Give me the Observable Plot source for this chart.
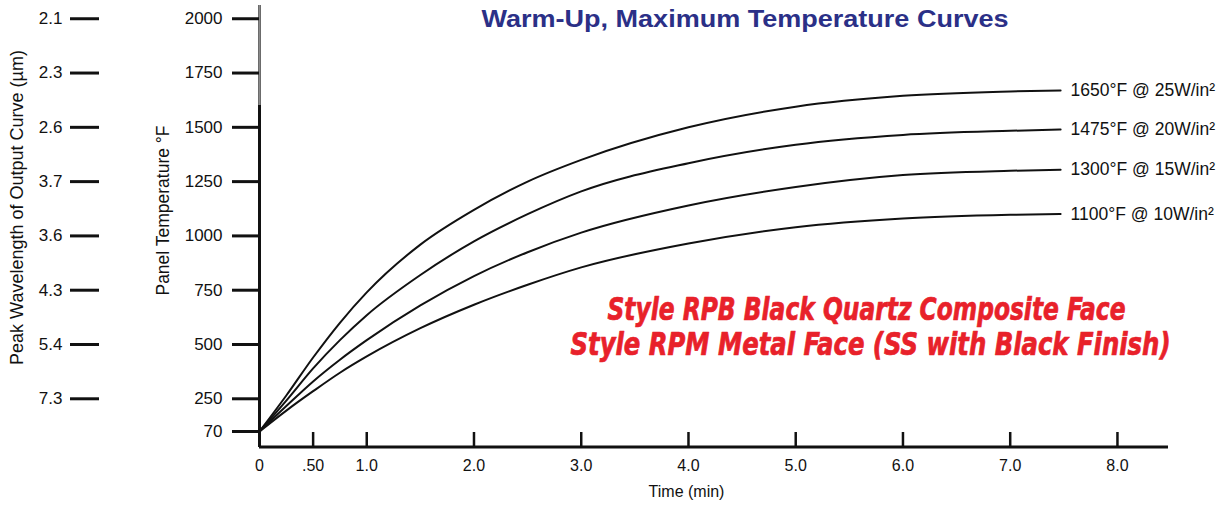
<!DOCTYPE html>
<html><head><meta charset="utf-8">
<script src="https://cdn.jsdelivr.net/npm/d3@7"></script>
<script src="https://cdn.jsdelivr.net/npm/@observablehq/plot@0.6"></script>
<style>body{margin:0;background:#fff} svg{display:block}</style>
</head><body><div id="chart"></div>
<script>
// ---- data ----
const times      = [0, 0.25, 0.5, 0.75, 1, 1.5, 2, 2.5, 3, 4, 5, 6, 7, 7.47];
const curve1650  = [70, 265, 440, 600, 740, 960, 1120, 1250, 1350, 1500, 1595, 1645, 1665, 1670];
const curve1475  = [70, 240, 390, 520, 635, 820, 975, 1100, 1205, 1335, 1420, 1465, 1484, 1490];
const curve1300  = [70, 210, 330, 430, 520, 680, 815, 925, 1015, 1140, 1225, 1280, 1300, 1305];
const curve1100  = [70, 185, 285, 370, 445, 575, 683, 775, 855, 965, 1040, 1080, 1097, 1101];
const seriesNames = ["1650°F @ 25W/in²", "1475°F @ 20W/in²", "1300°F @ 15W/in²", "1100°F @ 10W/in²"];
const tempTicks = [2000, 1750, 1500, 1250, 1000, 750, 500, 250, 70];
const wavelengthLabels = ["2.1", "2.3", "2.6", "3.7", "3.6", "4.3", "5.4", "7.3"];
const timeTicks = [0, 0.5, 1, 2, 3, 4, 5, 6, 7, 8];
const timeTickLabels = ["0", ".50", "1.0", "2.0", "3.0", "4.0", "5.0", "6.0", "7.0", "8.0"];
const title = "Warm-Up, Maximum Temperature Curves";
const noteLines = ["Style RPB Black Quartz Composite Face", "Style RPM Metal Face (SS with Black Finish)"];
const xTitle = "Time (min)";
const yTitle = "Panel Temperature °F";
const y2Title = "Peak Wavelength of Output Curve (µm)";

// ---- tables ----
const allSeries = [curve1650, curve1475, curve1300, curve1100];
const rows = [];
allSeries.forEach((vals, i) => vals.forEach((v, j) => rows.push({t: times[j], T: v, s: seriesNames[i]})));
const ends = allSeries.map((vals, i) => ({t: times[times.length - 1], T: vals[vals.length - 1], s: seriesNames[i]}));
const wl = wavelengthLabels.map((w, i) => ({T: tempTicks[i], w}));
const xt = timeTicks.map((t, i) => ({t, label: timeTickLabels[i]}));

// the printed axis is not linear below 250 (70 sits closer to 250): piecewise transform
const Y0 = 25.7;
const yTransform = v => v >= 250 ? v
  : v >= 70 ? 99.4 + (v - 70) * (250 - 99.4) / 180
  : Y0 + (v - Y0) * (99.4 - Y0) / (70 - Y0);

const FONT = "'Liberation Sans', Arial, Helvetica, sans-serif";
const W = 1223, H = 506, ML = 259, MR = 55, MT = 5, MB = 59;
const frameH = H - MT - MB, frameW = W - ML - MR;
const ink = "#111";

const plot = Plot.plot({
  width: W, height: H,
  marginLeft: ML, marginRight: MR, marginTop: MT, marginBottom: MB,
  style: {fontFamily: FONT, background: "#fff", color: ink},
  x: {domain: [0, 8.476], axis: null},
  y: {domain: [Y0, 2061], transform: yTransform, axis: null},
  marks: [
    // axis lines
    Plot.ruleX([0], {strokeWidth: 3, stroke: ink}),
    Plot.ruleX([0], {strokeWidth: 2.5, stroke: "#8a8a8a", insetBottom: frameH - 100}),
    Plot.rect([0], {x1: 0, x2: 8.476, fill: ink, insetTop: frameH - 1.5, insetBottom: -1.5}),
    // y ticks & labels
    Plot.ruleY(tempTicks, {strokeWidth: 3, stroke: ink, insetLeft: -27, insetRight: frameW}),
    Plot.text(tempTicks, {y: d => d, text: d => String(d), frameAnchor: "left", dx: -37, textAnchor: "end", lineAnchor: "middle", fontSize: 17, fill: ink}),
    // wavelength ticks & labels
    Plot.ruleY(wl, {y: "T", strokeWidth: 3, stroke: ink, insetLeft: -189, insetRight: frameW + 160}),
    Plot.text(wl, {y: "T", text: "w", frameAnchor: "left", dx: -197, textAnchor: "end", lineAnchor: "middle", fontSize: 17, fill: ink}),
    // x ticks & labels
    Plot.ruleX(timeTicks.filter(d => d > 0), {x: d => d, strokeWidth: 2.5, stroke: ink, insetTop: frameH - 15}),
    Plot.text(xt, {x: "t", text: "label", frameAnchor: "bottom", dy: 18, textAnchor: "middle", lineAnchor: "middle", fontSize: 16, fill: ink}),
    // axis titles
    Plot.text([xTitle], {frameAnchor: "top-left", dx: 686 - ML, dy: 491 - MT, textAnchor: "middle", lineAnchor: "middle", fontSize: 16, fill: ink}),
    Plot.text([yTitle], {frameAnchor: "top-left", dx: 163 - ML, dy: 210 - MT, rotate: -90, textAnchor: "middle", lineAnchor: "middle", fontSize: 17.5, fill: ink}),
    Plot.text([y2Title], {frameAnchor: "top-left", dx: 17 - ML, dy: 207 - MT, rotate: -90, textAnchor: "middle", lineAnchor: "middle", fontSize: 18, fill: ink}),
    // curves
    Plot.line(rows, {x: "t", y: "T", z: "s", curve: "monotone-x", stroke: ink, strokeWidth: 2}),
    Plot.text(ends, {x: "t", y: "T", text: "s", dx: 10, textAnchor: "start", lineAnchor: "middle", fontSize: 17.5, fill: ink}),
    // title and notes
    Plot.text([title], {frameAnchor: "top-left", dx: 481 - ML, dy: 19 - MT, textAnchor: "start", lineAnchor: "middle", fontSize: 24, fontWeight: "bold", fill: "#2b3087"}),
    Plot.text([noteLines[0]], {frameAnchor: "top-left", dx: 607 - ML, dy: 309 - MT, textAnchor: "start", lineAnchor: "middle", fontSize: 32, fontWeight: "bold", fontStyle: "italic", fill: "#e8212a", stroke: "#e8212a", strokeWidth: 0.7}),
    Plot.text([noteLines[1]], {frameAnchor: "top-left", dx: 570 - ML, dy: 344 - MT, textAnchor: "start", lineAnchor: "middle", fontSize: 32, fontWeight: "bold", fontStyle: "italic", fill: "#e8212a", stroke: "#e8212a", strokeWidth: 0.7})
  ]
});
document.getElementById("chart").appendChild(plot);

// fit widths of a few long strings to the reference
const fit = {};
fit[title] = 527; fit[noteLines[0]] = 518; fit[noteLines[1]] = 600;
d3.select(plot).selectAll("text").each(function () {
  const w = fit[this.textContent];
  if (w) { d3.select(this).attr("textLength", w).attr("lengthAdjust", "spacingAndGlyphs"); }
});
d3.select(plot).selectAll("text").filter(function(){ return this.textContent.startsWith("Style"); })
  .style("font-family", "'Liberation Sans Narrow', 'DejaVu Sans Condensed', 'Liberation Sans', Arial, sans-serif");
</script>
</body></html>
